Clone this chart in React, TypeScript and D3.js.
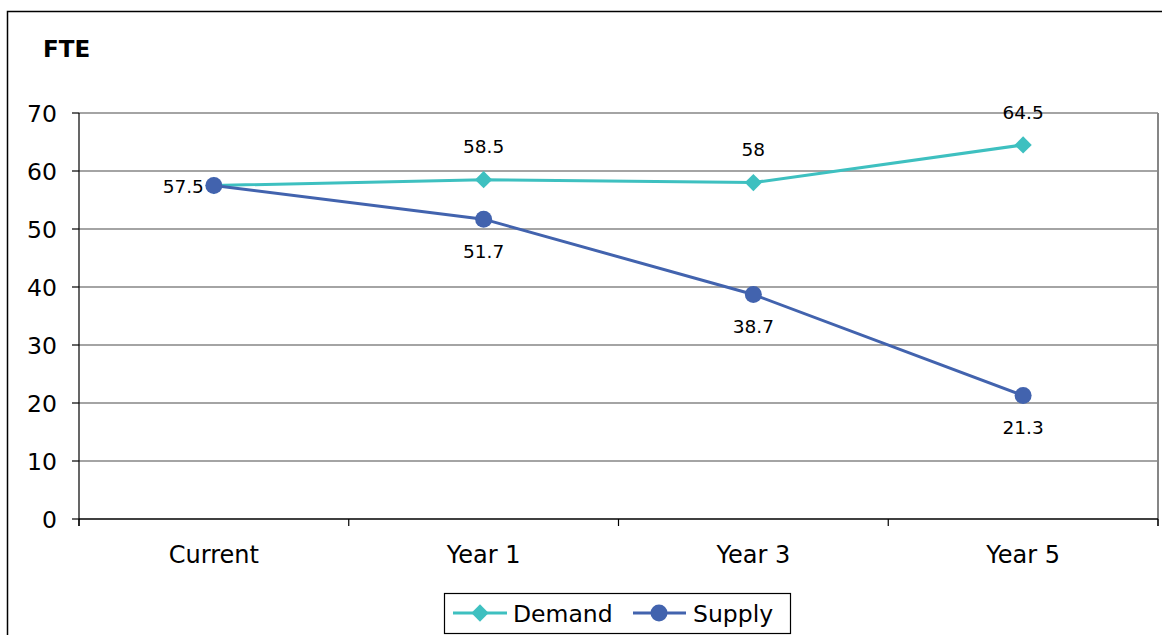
import React from "react";
import * as d3 from "d3";

const categories = ["Current", "Year 1", "Year 3", "Year 5"];
const demand = [57.5, 58.5, 58, 64.5];
const supply = [57.5, 51.7, 38.7, 21.3];
const yTicks = [0, 10, 20, 30, 40, 50, 60, 70];

const W = 1162;
const H = 635;
const FONT = "'DejaVu Sans', Verdana, sans-serif";
const DEMAND_COLOR = "#3ec0c0";
const SUPPLY_COLOR = "#4263ae";

export default function App() {
  const left = 79;
  const right = 1158;
  const top = 113;
  const bottom = 519;

  const x = d3.scaleBand<string>().domain(categories).range([left, right]);
  const y = d3.scaleLinear().domain([0, 70]).range([bottom, top]);
  const cx = (c: string) => (x(c) ?? 0) + x.bandwidth() / 2;

  const line = d3
    .line<number>()
    .x((_, i) => cx(categories[i]))
    .y((d) => y(d));

  const diamond = d3.symbol().type(d3.symbolDiamond2).size(190)();
  const edges = [left, ...categories.map((c) => (x(c) ?? 0) + x.bandwidth())];

  return (
    <svg
      width={W}
      height={H}
      style={{ position: "absolute", left: 0, top: 0, background: "#fff" }}
      fontFamily={FONT}
    >
      <rect x={7.5} y={11.5} width={W + 20} height={H + 20} fill="#fff" stroke="#000" strokeWidth={1.5} />
      <text x={43} y={57} fontSize={23} fontWeight="bold" fill="#000">FTE</text>

      {/* horizontal gridlines */}
      {yTicks.filter((t) => t > 0).map((t) => (
        <line key={t} x1={left} x2={right} y1={y(t)} y2={y(t)} stroke="#868686" strokeWidth={1.5} />
      ))}
      <line x1={right} x2={right} y1={top} y2={bottom + 7} stroke="#868686" strokeWidth={2} />

      {/* y axis */}
      <line x1={left} x2={left} y1={top} y2={bottom + 7} stroke="#000" strokeWidth={1.2} />
      {yTicks.map((t) => (
        <g key={t}>
          <line x1={left - 7} x2={left} y1={y(t)} y2={y(t)} stroke="#000" strokeWidth={1.2} />
          <text x={57} y={y(t) + 8.5} textAnchor="end" fontSize={23.5} fill="#000">{t}</text>
        </g>
      ))}

      {/* x axis */}
      <line x1={left} x2={right} y1={bottom} y2={bottom} stroke="#000" strokeWidth={1.5} />
      {edges.map((e, i) => (
        <line key={i} x1={e} x2={e} y1={bottom} y2={bottom + 7} stroke="#000" strokeWidth={1.2} />
      ))}
      {categories.map((c) => (
        <text key={c} x={cx(c)} y={563} textAnchor="middle" fontSize={24} fill="#000">{c}</text>
      ))}

      {/* series */}
      <path d={line(demand) ?? ""} fill="none" stroke={DEMAND_COLOR} strokeWidth={3} />
      <path d={line(supply) ?? ""} fill="none" stroke={SUPPLY_COLOR} strokeWidth={3} />
      {demand.map((v, i) => (
        <path key={"d" + i} d={diamond ?? ""} transform={`translate(${cx(categories[i])},${y(v)})`} fill={DEMAND_COLOR} />
      ))}
      {supply.map((v, i) => (
        <circle key={"s" + i} cx={cx(categories[i])} cy={y(v)} r={8.5} fill={SUPPLY_COLOR} />
      ))}

      {/* data labels */}
      {demand.map((v, i) =>
        i === 0 ? null : (
          <text key={"dl" + i} x={cx(categories[i])} y={y(v) - 33 + 6.7} textAnchor="middle" fontSize={18.5} fill="#000">{v}</text>
        )
      )}
      {supply.map((v, i) =>
        i === 0 ? (
          <text key={"sl" + i} x={cx(categories[i]) - 10} y={y(v) + 1 + 6.7} textAnchor="end" fontSize={18.5} fill="#000">{v}</text>
        ) : (
          <text key={"sl" + i} x={cx(categories[i])} y={y(v) + 32 + 6.7} textAnchor="middle" fontSize={18.5} fill="#000">{v}</text>
        )
      )}

      {/* legend */}
      <rect x={444.5} y={593.5} width={346} height={40} fill="#fff" stroke="#000" strokeWidth={1.2} />
      <line x1={453} x2={507} y1={613} y2={613} stroke={DEMAND_COLOR} strokeWidth={3} />
      <path d={diamond ?? ""} transform="translate(480,613)" fill={DEMAND_COLOR} />
      <text x={513} y={622} fontSize={23.5} fill="#000">Demand</text>
      <line x1={633} x2={686} y1={613} y2={613} stroke={SUPPLY_COLOR} strokeWidth={3} />
      <circle cx={659} cy={613} r={8.5} fill={SUPPLY_COLOR} />
      <text x={693} y={622} fontSize={23.5} fill="#000">Supply</text>
    </svg>
  );
}
